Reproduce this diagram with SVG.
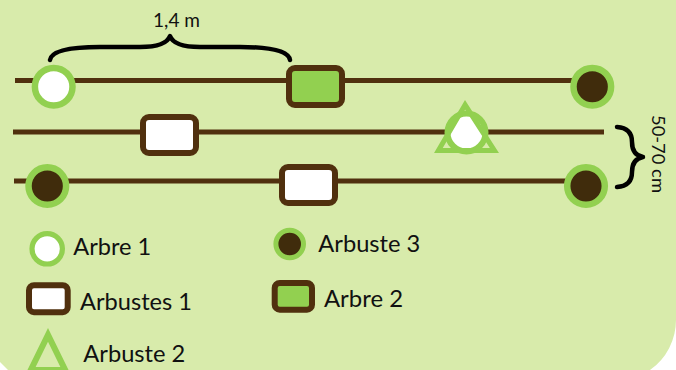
<svg xmlns="http://www.w3.org/2000/svg" width="676" height="370" viewBox="0 0 676 370">
  <style>
    .bg { fill: #d8ebab; }
    .row { stroke: #50300e; stroke-width: 5; fill: none; }
    .ring { fill: #ffffff; stroke: #92d050; }
    .dark { fill: #402c0c; stroke: #92d050; }
    .box { stroke: #50300e; stroke-width: 6; }
    .white { fill: #ffffff; }
    .green { fill: #92d050; }
    .tri { fill: none; stroke: #92d050; stroke-linejoin: miter; stroke-miterlimit: 10; }
    .brace { fill: none; stroke: #000000; stroke-width: 4.5; stroke-linecap: round; stroke-linejoin: round; }
    .lbl { font-family: Lato, "Open Sans", "DejaVu Sans", sans-serif; fill: #111111; }
    .leg { font-size: 23px; }
  </style>
  <rect width="676" height="370" fill="#ffffff"/>
  <path class="bg" d="M0,0 H676 V320 A61,61 0 0 1 650,370 H8 L0,362 Z"/>

  <g id="connectors">
    <line class="row" x1="15" y1="80.5" x2="590" y2="80.5"/>
    <line class="row" x1="13" y1="132" x2="604" y2="132"/>
    <line class="row" x1="14" y1="181" x2="588" y2="181"/>
  </g>

  <g id="row1-arbre1"><circle class="ring" cx="53.7" cy="86.7" r="18.8" stroke-width="6.5"/></g>
  <g id="row1-arbre2"><rect class="box green" x="289" y="68" width="53" height="37" rx="6"/></g>
  <g id="row1-arbuste3"><circle class="dark" cx="592.3" cy="86.7" r="18.8" stroke-width="6.5"/></g>

  <g id="row2-arbustes1"><rect class="box white" x="143" y="117" width="53" height="36" rx="6"/></g>
  <g id="row2-arbuste2">
    <circle class="ring" cx="466.5" cy="132.5" r="19" stroke-width="6"/>
    <polygon class="tri" stroke-width="5" points="465.1,104.8 438.4,150.5 494.4,150.5"/>
  </g>

  <g id="row3-arbuste3-left"><circle class="dark" cx="47.3" cy="186" r="18.8" stroke-width="6.5"/></g>
  <g id="row3-arbustes1"><rect class="box white" x="282" y="167" width="53" height="36" rx="6"/></g>
  <g id="row3-arbuste3-right"><circle class="dark" cx="586" cy="186" r="18.8" stroke-width="6.5"/></g>

  <g id="dim-top">
    <path class="brace" d="M50,60 Q52,47 100,47 L140,47 Q166,47 170,36 Q174,47 200,47 L240,47 Q288,47 290,60"/>
    <text class="lbl" x="153" y="27.3" font-size="19.5" textLength="47" lengthAdjust="spacingAndGlyphs">1,4 m</text>
  </g>

  <g id="dim-right">
    <path class="brace" d="M617,127 Q632,128 632,142 Q632,155 643,157 Q632,159 632,172 Q632,186 617,187"/>
    <text class="lbl" transform="translate(652,115) rotate(90)" x="0" y="0" font-size="18" textLength="78" lengthAdjust="spacingAndGlyphs">50-70 cm</text>
  </g>

  <g id="legend-arbre1">
    <circle class="ring" cx="47.2" cy="248.8" r="15.2" stroke-width="5.2"/>
    <text class="lbl leg" x="73.3" y="255" textLength="78" lengthAdjust="spacingAndGlyphs">Arbre 1</text>
  </g>
  <g id="legend-arbustes1">
    <rect class="box white" x="29" y="285.2" width="38.7" height="27" rx="5" stroke-width="5.7"/>
    <text class="lbl leg" x="80" y="310" textLength="112" lengthAdjust="spacingAndGlyphs">Arbustes 1</text>
  </g>
  <g id="legend-arbuste2">
    <polygon class="tri" stroke-width="6" points="48,334.9 30.8,370 65.2,370"/>
    <text class="lbl leg" x="83.3" y="361.7" textLength="102" lengthAdjust="spacingAndGlyphs">Arbuste 2</text>
  </g>
  <g id="legend-arbuste3">
    <circle class="dark" cx="289.7" cy="244" r="13.8" stroke-width="5"/>
    <text class="lbl leg" x="318.3" y="251.7" textLength="102" lengthAdjust="spacingAndGlyphs">Arbuste 3</text>
  </g>
  <g id="legend-arbre2">
    <rect class="box green" x="274.7" y="283" width="37.3" height="26.7" rx="5"/>
    <text class="lbl leg" x="324" y="306.7" textLength="79" lengthAdjust="spacingAndGlyphs">Arbre 2</text>
  </g>
</svg>
